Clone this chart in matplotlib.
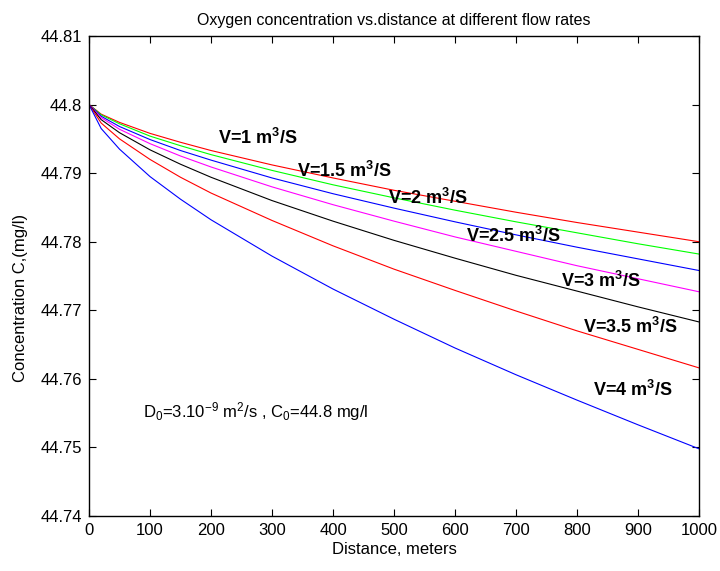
import matplotlib
matplotlib.use('Agg')
import matplotlib.pyplot as plt

plt.rcParams['font.family'] = ['Liberation Sans', 'DejaVu Sans']
plt.rcParams['mathtext.default'] = 'regular'

# distance along the river, meters
distance = [0, 20, 50, 100, 150, 200, 300, 400, 500, 600, 700, 800, 900, 1000]

# concentration (mg/l), one list per flow rate
c_v1 = [44.8, 44.7986, 44.7974, 44.7958, 44.7945, 44.7933, 44.7912, 44.7893,
        44.7875, 44.7859, 44.7843, 44.7828, 44.7814, 44.7800]
c_v15 = [44.8, 44.7985, 44.7972, 44.7954, 44.7940, 44.7927, 44.7904, 44.7883,
         44.7864, 44.7846, 44.7829, 44.7813, 44.7797, 44.7782]
c_v2 = [44.8, 44.7983, 44.7968, 44.7949, 44.7933, 44.7919, 44.7893, 44.7870,
        44.7849, 44.7829, 44.7810, 44.7792, 44.7775, 44.7758]
c_v25 = [44.8, 44.7981, 44.7964, 44.7943, 44.7925, 44.7909, 44.7880, 44.7854,
         44.7830, 44.7807, 44.7786, 44.7765, 44.7746, 44.7727]
c_v3 = [44.8, 44.7978, 44.7959, 44.7934, 44.7913, 44.7894, 44.7860, 44.7830,
        44.7802, 44.7776, 44.7751, 44.7728, 44.7705, 44.7683]
c_v35 = [44.8, 44.7973, 44.7950, 44.7920, 44.7894, 44.7871, 44.7831, 44.7794,
         44.7760, 44.7729, 44.7699, 44.7670, 44.7643, 44.7616]
c_v4 = [44.8, 44.7965, 44.7935, 44.7895, 44.7862, 44.7832, 44.7779, 44.7731,
        44.7687, 44.7645, 44.7606, 44.7569, 44.7533, 44.7498]

series = [c_v1, c_v15, c_v2, c_v25, c_v3, c_v35, c_v4]
colors = ['#ff0000', '#00ff00', '#0000ff', '#ff00ff', '#000000', '#ff0000', '#0000ff']
labels = ['V=1 m$^3$/S', 'V=1.5 m$^3$/S', 'V=2 m$^3$/S', 'V=2.5 m$^3$/S',
          'V=3 m$^3$/S', 'V=3.5 m$^3$/S', 'V=4 m$^3$/S']
# where each curve label sits (distance, concentration)
label_x = [211, 341, 490, 618, 774, 810, 826]
label_y = [44.7951, 44.7903, 44.7864, 44.7808, 44.7743, 44.7676, 44.7584]

x_ticks = [0, 100, 200, 300, 400, 500, 600, 700, 800, 900, 1000]
y_ticks = [44.74, 44.75, 44.76, 44.77, 44.78, 44.79, 44.80, 44.81]
y_tick_labels = ['44.74', '44.75', '44.76', '44.77', '44.78', '44.79', '44.8', '44.81']

fig = plt.figure(figsize=(7.2, 5.71), dpi=100)
ax = fig.add_axes([89 / 720, 55 / 571, 610 / 720, 480 / 571])

for c, col in zip(series, colors):
    ax.plot(distance, c, color=col, linewidth=0.8)

for lab, lx, ly in zip(labels, label_x, label_y):
    ax.text(lx, ly, lab, fontsize=13, fontweight='bold', va='center', ha='left')

ax.text(89, 44.7552, 'D$_0$=3.10$^{-9}$ m$^2$/s , C$_0$=44.8 mg/l',
        fontsize=12, va='center', ha='left')

# Achsen im MATLAB-Stil
ax.set_xlim(0, 1000)
ax.set_ylim(44.74, 44.81)
ax.set_xticks(x_ticks)
ax.set_yticks(y_ticks)
ax.set_yticklabels(y_tick_labels)
ax.tick_params(direction='in', top=True, right=True, length=5, width=0.8,
               labelsize=12, pad=5)
for s in ax.spines.values():
    s.set_linewidth(1.0)

ax.set_title('Oxygen concentration vs.distance at different flow rates',
             fontsize=11.5, pad=8)
ax.set_xlabel('Distance, meters', fontsize=12, labelpad=3)
ax.set_ylabel('Concentration C,(mg/l)', fontsize=12)
ax.yaxis.set_label_coords(-0.1, 0.454)

fig.savefig('out.png', dpi=100)
